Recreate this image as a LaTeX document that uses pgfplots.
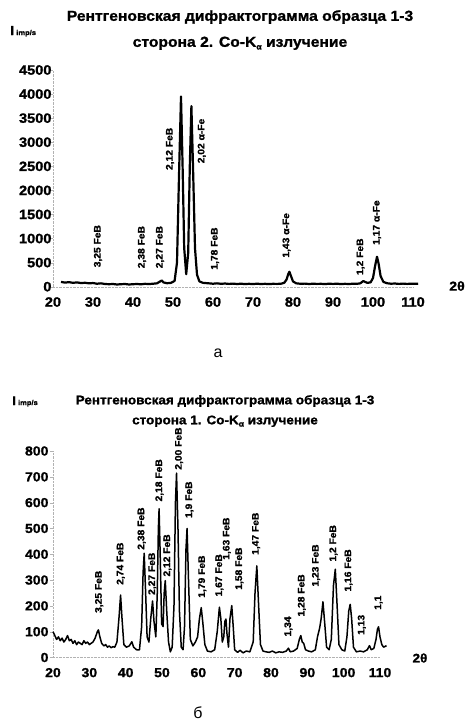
\documentclass[border=0pt]{standalone}
\usepackage{fontspec}
\setmainfont{Liberation Sans}[BoldFeatures={FakeBold=1.3, FakeStretch=1.08}]
\usepackage{pgfplots}
\pgfplotsset{compat=1.18}

\newcommand{\Ka}{K\raisebox{-0.35ex}{\fontsize{8}{8}\selectfont α}}

\pgfplotsset{xrd/.style={
    scale only axis, anchor=south west, clip=false,
    xmin=20, xmax=110, ymin=0,
    axis lines=left, axis line style={gray!60, densely dotted, -},
    xtick={20,30,...,110},
    tick align=outside, major tick length=3pt,
    tick style={gray!60, solid},
    x tick style={draw=none},
    /pgf/number format/assume math mode=true,
    /pgf/number format/1000 sep={},
    tick label style={font=\bfseries\fontsize{13.5}{13.5}\selectfont},
    xticklabel style={yshift=-4pt},
    every axis plot/.append style={black, line join=round, no markers},
}}
\tikzset{lbl/.style={rotate=90, anchor=west, inner sep=0pt,
    font=\bfseries\fontsize{9.5}{9.5}\selectfont}}

\begin{document}
\begin{tikzpicture}
\useasboundingbox (0,0) rectangle (465pt,-723pt);

% ---- а: сторона 2 ----
\node[font=\bfseries\fontsize{14.5}{26}\selectfont, align=center] at (240pt,-30pt)
  {Рентгеновская дифрактограмма образца 1-3\\сторона 2. Co-\Ka{} излучение};
\node[anchor=base west, inner sep=0pt] at (10pt,-35pt)
  {\bfseries\fontsize{13}{13}\selectfont I\,\fontsize{7}{7}\selectfont imp/s};
\node[font=\bfseries\fontsize{13}{13}\selectfont] at (457pt,-286pt) {2θ};
\node[font=\fontsize{16}{16}\selectfont] at (218pt,-353pt) {а};

\begin{axis}[xrd, at={(53pt,-286.7pt)}, width=360pt, height=216.7pt,
    ymax=4500, ytick={0,500,...,4500}, yticklabel style={xshift=5pt}]
\addplot[line width=2.2pt] coordinates {
 (22,100) (23,85) (24,95) (25,80) (26,90) (27,75) (28,82) (29,70) (30,76)
 (31,62) (32,70) (33,56) (34,52) (35,56) (36,46) (37,52) (38,56) (39,46)
 (40,52) (41,56) (42,50) (43,60) (44,55) (45,62) (46,70) (46.8,110)
 (47.2,130) (47.6,90) (48.5,72) (49.5,80) (50.4,120) (51.0,500) (51.5,2300)
 (52.0,3950) (52.4,2500) (52.8,800) (53.3,260) (53.8,700) (54.2,2500)
 (54.6,3750) (55.0,2500) (55.5,800) (56.0,250) (56.6,110) (57.5,80)
 (59,70) (60,62) (61,70) (62,60) (63,66) (64,58) (65,64) (66,56) (67,62)
 (68,55) (69,60) (70,55) (71,62) (72,56) (73,60) (74,54) (75,60) (76,58)
 (77,62) (77.8,80) (78.4,150) (78.8,260) (79.1,311) (79.5,220) (80.0,110)
 (80.8,70) (82,60) (83,64) (84,56) (85,62) (86,58) (87,60) (88,55) (89,62)
 (90,58) (91,62) (92,55) (93,60) (94,56) (95,62) (96,60) (96.8,70)
 (97.3,100) (97.6,118) (98.0,100) (98.6,80) (99.4,90) (100.0,180)
 (100.5,420) (101.0,623) (101.4,480) (101.9,220) (102.6,100) (103.5,72)
 (104.5,62) (105.5,66) (106.5,58) (107.5,64) (108.5,58) (109.5,62)
 (110.5,60) (111.3,64)
};
\node[lbl] at (axis cs:31.25,400) {3,25 FeB};
\node[lbl] at (axis cs:42.25,380) {2,38 FeB};
\node[lbl] at (axis cs:46.75,380) {2,27 FeB};
\node[lbl] at (axis cs:49.25,2420) {2,12 FeB};
\node[lbl] at (axis cs:57.2,2560) {2,02 α-Fe};
\node[lbl] at (axis cs:60.5,350) {1,78 FeB};
\node[lbl] at (axis cs:78.4,600) {1,43 α-Fe};
\node[lbl] at (axis cs:96.9,240) {1,2 FeB};
\node[lbl] at (axis cs:101,865) {1,17 α-Fe};
\end{axis}

% ---- б: сторона 1 ----
\node[font=\bfseries\fontsize{12.5}{20}\selectfont, align=center] at (225pt,-411pt)
  {Рентгеновская дифрактограмма образца 1-3\\сторона 1. Co-\Ka{} излучение};
\node[anchor=base west, inner sep=0pt] at (12pt,-405pt)
  {\bfseries\fontsize{12.5}{12.5}\selectfont I\,\fontsize{7}{7}\selectfont imp/s};
\node[font=\bfseries\fontsize{12.5}{12.5}\selectfont] at (420pt,-658pt) {2θ};
\node[font=\fontsize{16}{16}\selectfont] at (198pt,-713pt) {б};

\begin{axis}[xrd, at={(53pt,-657.5pt)}, width=327pt, height=206.5pt,
    ymax=800, ytick={0,100,...,800}, yticklabel style={xshift=2pt},
    tick label style={font=\bfseries\fontsize{13}{13}\selectfont}]
\addplot[line width=1.5pt] coordinates {
 (20,100) (20.5,85) (21,70) (21.5,80) (22,65) (22.5,75) (23,60) (23.5,70)
 (24,85) (24.5,65) (25,70) (25.5,55) (26,65) (26.5,50) (27,60) (27.5,55)
 (28,50) (28.5,65) (29,55) (29.5,60) (30,50) (30.5,55) (31,60) (31.6,75)
 (32.2,100) (32.5,107) (32.9,80) (33.4,55) (34,45) (34.5,50) (35,40)
 (35.5,45) (36,38) (36.5,42) (37,40) (37.6,60) (38.2,160) (38.6,242)
 (39.0,150) (39.5,50) (40.2,40) (41,45) (41.7,61) (42.2,40) (43,30)
 (43.8,30) (44.4,120) (44.8,330) (45.1,404) (45.5,250) (45.9,80) (46.4,60)
 (46.9,150) (47.4,219) (47.8,140) (48.3,80) (48.7,250) (49.0,500)
 (49.2,576) (49.5,400) (49.9,130) (50.3,120) (50.6,250) (50.9,298)
 (51.3,180) (51.8,60) (52.3,22) (52.8,40) (53.3,200) (53.7,600) (54.0,714)
 (54.4,500) (54.8,180) (55.3,40) (55.8,30) (56.2,120) (56.6,420) (56.9,500)
 (57.3,300) (57.8,70) (58.5,45) (59.2,60) (59.8,80) (60.3,150) (60.8,193)
 (61.2,140) (61.8,50) (62.5,25) (63.5,22) (64.5,30) (65.2,100) (65.8,195)
 (66.2,150) (66.6,60) (67.0,80) (67.3,140) (67.6,149) (67.9,90) (68.3,40)
 (68.7,150) (69.2,201) (69.6,120) (70.0,30) (70.8,20) (71.5,28) (72.3,18)
 (73.2,25) (74.2,22) (75.1,60) (75.6,250) (76.1,355) (76.6,200) (77.1,50)
 (77.8,25) (78.6,22) (79.5,20) (80.4,25) (81.3,18) (82.2,22) (83.2,20)
 (84.2,25) (84.8,36) (85.3,22) (86.2,25) (87.2,35) (87.8,70) (88.2,85)
 (88.6,60) (89.0,55) (89.5,30) (90.3,25) (91.2,22) (92.2,30) (92.8,80)
 (93.4,115) (93.8,150) (94.3,216) (94.8,130) (95.3,40) (96.0,30) (96.6,70)
 (97.2,280) (97.7,342) (98.2,200) (98.7,50) (99.5,30) (100.3,25) (100.9,80)
 (101.4,180) (101.8,206) (102.2,150) (102.7,40) (103.5,22) (104.5,25)
 (105.5,22) (106.5,30) (107.1,46) (107.6,30) (108.3,35) (108.9,70)
 (109.3,110) (109.6,119) (110.0,80) (110.5,50) (111.0,40) (111.8,46)
};
\node[lbl] at (axis cs:32.7,172) {3,25 FeB};
\node[lbl] at (axis cs:38.65,281) {2,74 FeB};
\node[lbl] at (axis cs:44.4,417) {2,38 FeB};
\node[lbl] at (axis cs:47.35,242) {2,27 FeB};
\node[lbl] at (axis cs:49.3,604) {2,18 FeB};
\node[lbl] at (axis cs:51.5,313) {2,12 FeB};
\node[lbl] at (axis cs:54.7,727) {2,00 FeB};
\node[lbl] at (axis cs:57.55,540) {1,9 FeB};
\node[lbl] at (axis cs:61.1,231) {1,79 FeB};
\node[lbl] at (axis cs:65.8,236) {1,67 FeB};
\node[lbl] at (axis cs:67.85,378) {1,63 FeB};
\node[lbl] at (axis cs:71.3,262) {1,58 FeB};
\node[lbl] at (axis cs:75.9,397) {1,47 FeB};
\node[lbl] at (axis cs:84.8,81) {1,34};
\node[lbl] at (axis cs:88.5,158) {1,28 FeB};
\node[lbl] at (axis cs:92.4,274) {1,23 FeB};
\node[lbl] at (axis cs:97.2,371) {1,2 FeB};
\node[lbl] at (axis cs:101.35,255) {1,16 FeB};
\node[lbl] at (axis cs:105.0,87) {1,13};
\node[lbl] at (axis cs:109.6,184) {1,1};
\end{axis}
\end{tikzpicture}
\end{document}
